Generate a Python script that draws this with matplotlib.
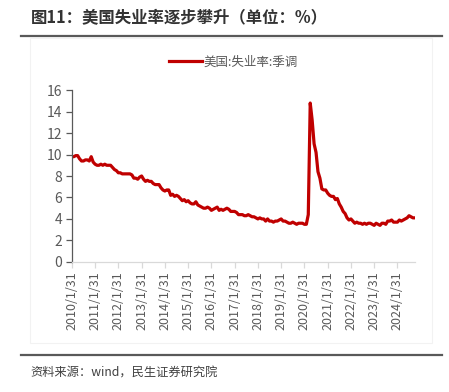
import matplotlib
matplotlib.use("Agg")
import matplotlib.pyplot as plt
import numpy as np

plt.rcParams['font.family'] = ['Noto Sans CJK SC', 'DejaVu Sans']

# Monthly US unemployment rate (SA), 2010-01 .. 2024-10
unemp_2010 = [9.8, 9.8, 9.9, 9.9, 9.6, 9.4, 9.4, 9.5, 9.5, 9.4, 9.8, 9.3]
unemp_2011 = [9.1, 9.0, 9.0, 9.1, 9.0, 9.1, 9.0, 9.0, 9.0, 8.8, 8.6, 8.5]
unemp_2012 = [8.3, 8.3, 8.2, 8.2, 8.2, 8.2, 8.2, 8.1, 7.8, 7.8, 7.7, 7.9]
unemp_2013 = [8.0, 7.7, 7.5, 7.6, 7.5, 7.5, 7.3, 7.2, 7.2, 7.2, 6.9, 6.7]
unemp_2014 = [6.6, 6.7, 6.7, 6.2, 6.3, 6.1, 6.2, 6.1, 5.9, 5.7, 5.8, 5.6]
unemp_2015 = [5.7, 5.5, 5.4, 5.4, 5.6, 5.3, 5.2, 5.1, 5.0, 5.0, 5.1, 5.0]
unemp_2016 = [4.8, 4.9, 5.0, 5.1, 4.8, 4.9, 4.8, 4.9, 5.0, 4.9, 4.7, 4.7]
unemp_2017 = [4.7, 4.6, 4.4, 4.4, 4.4, 4.3, 4.3, 4.4, 4.3, 4.2, 4.2, 4.1]
unemp_2018 = [4.0, 4.1, 4.0, 4.0, 3.8, 4.0, 3.8, 3.8, 3.7, 3.8, 3.8, 3.9]
unemp_2019 = [4.0, 3.8, 3.8, 3.7, 3.6, 3.6, 3.7, 3.6, 3.5, 3.6, 3.6, 3.6]
unemp_2020 = [3.5, 3.5, 4.4, 14.8, 13.2, 11.0, 10.2, 8.4, 7.8, 6.8, 6.7, 6.7]
unemp_2021 = [6.4, 6.2, 6.1, 6.1, 5.8, 5.9, 5.4, 5.1, 4.7, 4.5, 4.1, 3.9]
unemp_2022 = [4.0, 3.8, 3.6, 3.7, 3.6, 3.6, 3.5, 3.6, 3.5, 3.6, 3.6, 3.5]
unemp_2023 = [3.4, 3.6, 3.5, 3.4, 3.6, 3.6, 3.5, 3.8, 3.8, 3.9, 3.7, 3.7]
unemp_2024 = [3.7, 3.9, 3.8, 3.9, 4.0, 4.1, 4.3, 4.2, 4.1, 4.1]

years = list(range(2010, 2025))
tick_labels = [f"{y}/1/31" for y in years]
series_name = "美国:失业率:季调"

values = (unemp_2010 + unemp_2011 + unemp_2012 + unemp_2013 + unemp_2014 +
          unemp_2015 + unemp_2016 + unemp_2017 + unemp_2018 + unemp_2019 +
          unemp_2020 + unemp_2021 + unemp_2022 + unemp_2023 + unemp_2024)
x = np.arange(len(values))

fig = plt.figure(figsize=(4.49, 3.92), dpi=100)
ax = fig.add_axes([0.160, 0.332, 0.764, 0.438])

line, = ax.plot(x, values, color='#C00000', lw=2.3, solid_joinstyle='round')

ax.set_xlim(0, len(values) - 1)
ax.set_ylim(0, 16)
ax.set_yticks(range(0, 17, 2))
ax.set_xticks([i * 12 for i in range(len(years))])
ax.set_xticklabels(tick_labels, rotation=90)

for s in ['top', 'right']:
    ax.spines[s].set_visible(False)
ax.spines['left'].set_color('#595959')
ax.spines['left'].set_linewidth(0.9)
ax.spines['bottom'].set_color('#D9D9D9')
ax.spines['bottom'].set_linewidth(0.9)
ax.tick_params(axis='y', colors='#595959', labelsize=10, length=4, width=0.9, pad=3)
ax.tick_params(axis='x', colors='#D9D9D9', labelcolor='#595959', labelsize=9, length=4, width=0.9, pad=3)

# legend
fig.legend([line], [series_name], loc='center', bbox_to_anchor=(0.52, 0.842),
           frameon=False, fontsize=9, labelcolor='#595959', handlelength=2.6,
           handletextpad=0.1)

# title
fig.text(0.069, 0.953, "图11：美国失业率逐步攀升（单位：%）", fontsize=11.8,
         fontweight='bold', color='#333333', va='center', ha='left')
fig.add_artist(plt.Line2D([0.047, 0.984], [0.907, 0.907], color='#595959', lw=1.6,
                          transform=fig.transFigure))
# chart frame (very faint)
fig.add_artist(plt.Rectangle((0.067, 0.125), 0.895, 0.778, fill=False,
                             edgecolor='#F2F2F2', lw=0.8, transform=fig.transFigure))
fig.add_artist(plt.Line2D([0.047, 0.984], [0.094, 0.094], color='#595959', lw=1.6,
                          transform=fig.transFigure))
fig.text(0.067, 0.048, "资料来源：wind，民生证券研究院", fontsize=8.8,
         color='#404040', va='center', ha='left')

fig.savefig("out.png", dpi=100)
